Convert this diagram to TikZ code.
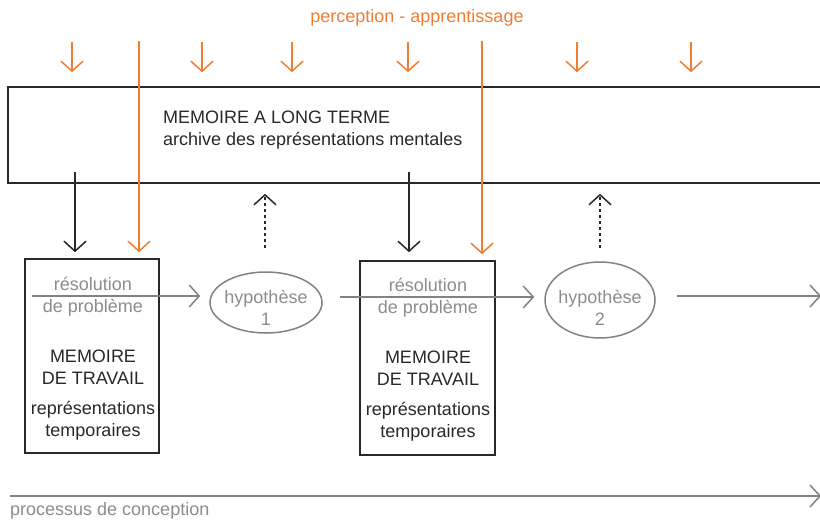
\documentclass[tikz,border=0pt]{standalone}
\usepackage{fontspec}
\setmainfont{Liberation Sans}
\usetikzlibrary{arrows.meta,shapes.geometric,calc}
\definecolor{orng}{RGB}{240,125,50}
\definecolor{gtxt}{RGB}{140,140,140}
\definecolor{gline}{RGB}{130,130,130}
\definecolor{dark}{RGB}{40,40,40}
\tikzset{
  txt/.style={font=\fontsize{18}{22}\selectfont, inner sep=0pt},
  boxs/.style={draw=dark, line width=1.6pt, rectangle, inner sep=0pt},
  ell/.style={draw=gline, line width=1.5pt, ellipse, inner sep=0pt},
  barb/.style={-{Straight Barb[length=10pt,width=22pt,line width=1.5pt]}, line width=1.5pt},
  oarr/.style={barb, draw=orng},
  karr/.style={barb, draw=dark},
  garr/.style={barb, draw=gline},
  darr/.style={barb, draw=dark, dash pattern=on 3.5pt off 2.5pt},
}
\begin{document}
\begin{tikzpicture}[x=1pt,y=-1pt]
\useasboundingbox (0,0) rectangle (820,523);
% long-term memory
\node[boxs, minimum width=822pt, minimum height=96pt] (ltm) at (419,135) {};
\node[txt, anchor=west, align=left, text=dark] (ltmt) at (163,130)
  {MEMOIRE A LONG TERME\\archive des représentations mentales};
\node[txt, text=orng] (perc) at (417,18) {perception - apprentissage};
% working memory boxes
\node[boxs, minimum width=134pt, minimum height=194pt] (b1) at (92,356) {};
\node[boxs, minimum width=135pt, minimum height=194pt] (b2) at (427.5,358) {};
\foreach \b/\x/\dy in {1/93/0,2/428/1}{
  \node[txt, text=gtxt, align=center] (r\b) at (\x,296.5+\dy) {résolution\\de problème};
  \node[txt, text=dark, align=center] (m\b) at (\x,367+\dy) {MEMOIRE\\DE TRAVAIL};
  \node[txt, text=dark, align=center] (t\b) at (\x,421+\dy) {représentations\\temporaires};
}
% hypotheses
\node[ell, minimum width=112pt, minimum height=61pt] (e1) at (266,302.5) {};
\node[txt, text=gtxt, align=center] (h1) at (266,308) {hypothèse\\1};
\node[ell, minimum width=110pt, minimum height=76pt] (e2) at (600,300) {};
\node[txt, text=gtxt, align=center] (h2) at (600,308) {hypothèse\\2};
% short orange arrows
\foreach \x [count=\i] in {72,202,292,408,577,691}{
  \coordinate (os\i) at (\x,42);
  \draw[oarr, shorten >=14pt] (os\i) -- (os\i |- ltm.north);
}
% long orange arrows
\coordinate (ol1) at (139,41);
\coordinate (ol2) at (482,41);
\draw[oarr, shorten >=6pt] (ol1) -- (ol1 |- b1.north);
\draw[oarr, shorten >=6pt] (ol2) -- (ol2 |- b2.north);
% black arrows
\coordinate (k1) at (75,172);
\coordinate (k2) at (409,172);
\draw[karr, shorten >=6pt] (k1) -- (k1 |- b1.north);
\draw[karr, shorten >=8pt] (k2) -- (k2 |- b2.north);
% dashed arrows
\coordinate (d1) at (265,248);
\coordinate (d2) at (600,248);
\draw[darr, shorten >=10pt] (d1) -- (d1 |- ltm.south);
\draw[darr, shorten >=10pt] (d2) -- (d2 |- ltm.south);
% grey flow
\coordinate (g1) at (32,296);
\coordinate (g2) at (340,297);
\coordinate (g3) at (677,296);
\coordinate (g3e) at (821,296);
\draw[garr, shorten >=9pt] (g1) -- (g1 -| e1.west);
\draw[garr, shorten >=10pt] (g2) -- (g2 -| e2.west);
\draw[garr] (g3) -- (g3e);
% process line
\coordinate (p1) at (10,496);
\coordinate (p2) at (821,496);
\draw[garr] (p1) -- (p2);
\node[txt, text=gtxt, anchor=west] (proc) at (10,511) {processus de conception};
\end{tikzpicture}
\end{document}
